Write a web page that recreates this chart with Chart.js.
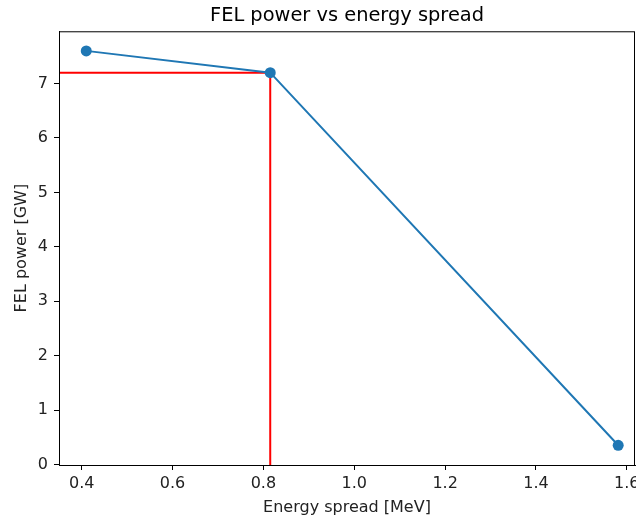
<!DOCTYPE html>
<html>
<head>
<meta charset="utf-8">
<script src="https://cdn.jsdelivr.net/npm/chart.js@4"></script>
<style>
  html, body { margin: 0; padding: 0; background: #fff; }
  canvas { display: block; }
</style>
</head>
<body>
<canvas id="chart" width="636" height="519"></canvas>
<script>
// data
const energySpread = [0.41, 0.815, 1.581];
const felPower = [7.60, 7.20, 0.354];
const markX = 0.815;
const markY = 7.20;
const xTicks = [0.4, 0.6, 0.8, 1.0, 1.2, 1.4, 1.6];
const yTicks = [0, 1, 2, 3, 4, 5, 6, 7];
const xMin = 0.35, xMax = 1.618;
const yMin = -0.008, yMax = 7.96;

const font = { family: 'DejaVu Sans', size: 16 };
Chart.defaults.color = '#222';

// keep title centred over the axes like matplotlib, and draw the box
const frame = {
  id: 'frame',
  afterLayout(chart) {
    const t = chart.titleBlock;
    t.left = chart.chartArea.left;
    t.right = chart.chartArea.right;
    t.width = t.right - t.left;
  },
  afterDatasetsDraw(chart) {
    const { ctx, chartArea: a } = chart;
    ctx.save();
    ctx.strokeStyle = '#000';
    ctx.lineWidth = 1;
    ctx.strokeRect(a.left + 0.5, a.top + 0.5, a.right - a.left - 1, a.bottom - a.top);
    ctx.restore();
  }
};

new Chart(document.getElementById('chart'), {
  type: 'line',
  data: {
    datasets: [
      {
        data: energySpread.map((x, i) => ({ x: x, y: felPower[i] })),
        borderColor: '#1f77b4',
        backgroundColor: '#1f77b4',
        borderWidth: 2,
        pointRadius: 5.5,
        pointBorderWidth: 0,
        order: 0
      },
      {
        data: [{ x: xMin, y: markY }, { x: markX, y: markY }],
        borderColor: 'red',
        borderWidth: 2,
        pointRadius: 0,
        order: 1
      },
      {
        data: [{ x: markX, y: yMin }, { x: markX, y: markY }],
        borderColor: 'red',
        borderWidth: 2,
        pointRadius: 0,
        order: 1
      }
    ]
  },
  options: {
    responsive: false,
    animation: false,
    layout: { autoPadding: false, padding: { left: 0, right: 1, top: 0, bottom: 0 } },
    plugins: {
      legend: { display: false },
      tooltip: { enabled: false },
      title: {
        display: true,
        text: 'FEL power vs energy spread',
        font: { family: 'DejaVu Sans', size: 19.4, weight: 'normal' },
        color: '#000',
        padding: { top: 4, bottom: 4 }
      }
    },
    scales: {
      x: {
        type: 'linear',
        min: xMin,
        max: xMax,
        afterBuildTicks: s => { s.ticks = xTicks.map(v => ({ value: v })); },
        afterFit: s => { s.height = 54; s.paddingLeft = 0; s.paddingRight = 0; },
        ticks: { font: font, padding: 4, maxRotation: 0, callback: v => v.toFixed(1) },
        grid: { drawOnChartArea: false, drawTicks: true, tickLength: 5, tickColor: '#000' },
        border: { color: '#000', width: 1 },
        title: { display: true, text: 'Energy spread [MeV]', font: font, padding: { top: 0, bottom: 2 } }
      },
      y: {
        type: 'linear',
        min: yMin,
        max: yMax,
        afterBuildTicks: s => { s.ticks = yTicks.map(v => ({ value: v })); },
        afterFit: s => { s.width = 59; s.paddingTop = 0; s.paddingBottom = 0; },
        ticks: { font: font, padding: 6, callback: v => String(v) },
        grid: { drawOnChartArea: false, drawTicks: true, tickLength: 5, tickColor: '#000' },
        border: { color: '#000', width: 1 },
        title: { display: true, text: 'FEL power [GW]', font: font, padding: { top: 12, bottom: 0 } }
      }
    }
  },
  plugins: [frame]
});
</script>
</body>
</html>
